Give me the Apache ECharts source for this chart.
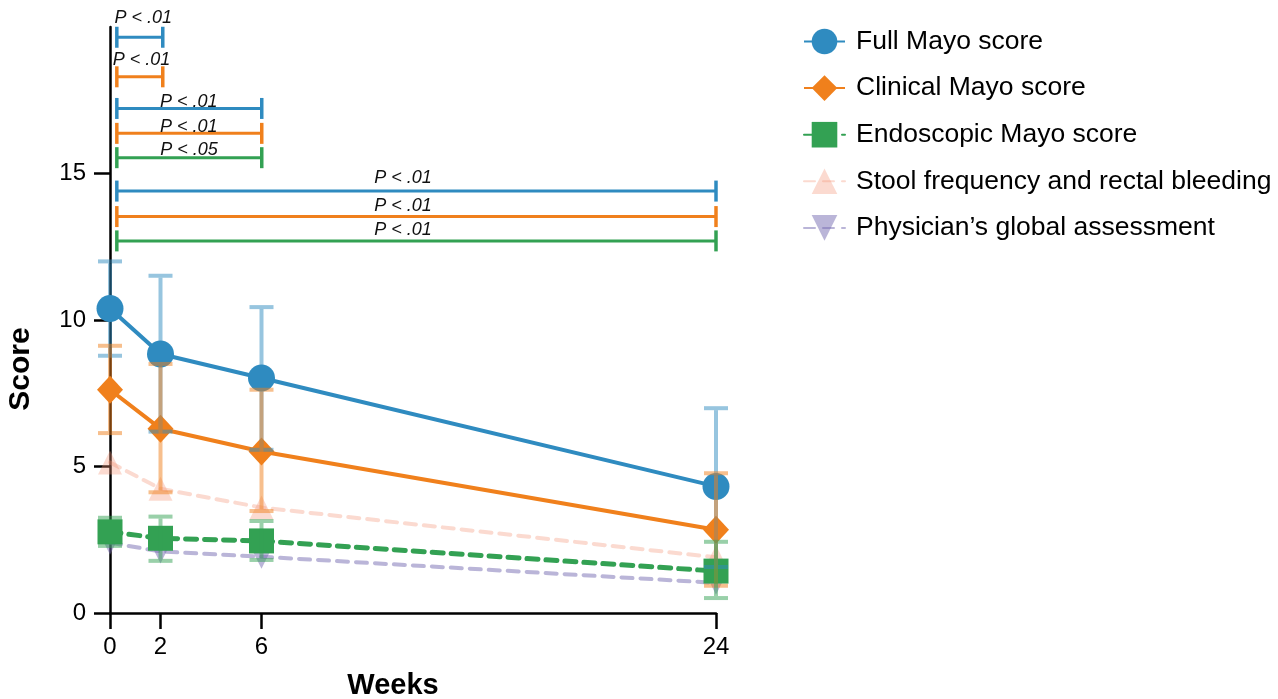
<!DOCTYPE html>
<html><head><meta charset="utf-8">
<script src="https://cdn.jsdelivr.net/npm/echarts@6/dist/echarts.min.js"></script>
<style>html,body{margin:0;padding:0;background:#fff}#c{width:1278px;height:699px}</style>
</head><body><div id="c"></div>
<script>
// ---------------- data ----------------
const weeks = [0, 2, 6, 24];
const xTicks = [0, 2, 6, 24];
const yTicks = [0, 5, 10, 15];

const fullMayo      = [10.39, 8.84, 8.02, 4.32];
const fullMayoLow   = [8.78, 6.19, 5.57, 1.57];
const fullMayoHigh  = [12.00, 11.51, 10.44, 6.99];

const clinicalMayo     = [7.62, 6.29, 5.51, 2.84];
const clinicalMayoLow  = [6.14, 4.12, 3.48, 0.93];
const clinicalMayoHigh = [9.12, 8.50, 7.62, 4.77];

const endoMayo     = [2.77, 2.55, 2.46, 1.43];
const endoMayoLow  = [2.29, 1.78, 1.81, 0.51];
const endoMayoHigh = [3.25, 3.29, 3.14, 2.43];

const stoolRectal     = [5.14, 4.24, 3.60, 1.90];
const physicianGlobal = [2.40, 2.10, 1.92, 1.03];

const seriesNames = ['Full Mayo score', 'Clinical Mayo score', 'Endoscopic Mayo score',
  'Stool frequency and rectal bleeding', 'Physician\u2019s global assessment'];

// significance brackets
const bracketSeries = ['full', 'clinical', 'full', 'clinical', 'endo', 'full', 'clinical', 'endo'];
const bracketFrom   = [0.27, 0.27, 0.27, 0.27, 0.27, 0.27, 0.27, 0.27];
const bracketTo     = [2.09, 2.09, 6.01, 6.01, 6.01, 24, 24, 24];
const bracketY      = [19.65, 18.30, 17.22, 16.37, 15.54, 14.40, 13.53, 12.70];
const bracketLabel  = ['P < .01', 'P < .01', 'P < .01', 'P < .01', 'P < .05', 'P < .01', 'P < .01', 'P < .01'];
const bracketLabelX = [1.32, 1.25, 3.12, 3.12, 3.13, 11.6, 11.6, 11.6];
const bracketLabelY = [20.32, 18.89, 17.44, 16.60, 15.80, 14.86, 13.89, 13.07];

// ---------------- style ----------------
const FONT = '"Liberation Sans", Arial, Helvetica, sans-serif';
const C = {
  full: '#2f8bc0', clinical: '#f0801c', endo: '#33a153',
  stool: 'rgba(243,150,120,0.35)', phys: 'rgba(117,107,177,0.5)'
};
const CE = {
  full: 'rgba(47,139,192,0.5)', clinical: 'rgba(240,128,28,0.5)', endo: 'rgba(51,161,83,0.5)'
};

function pts(vals) { return weeks.map((w, i) => [w, vals[i]]); }

function errSeries(name, low, high, color) {
  return {
    type: 'custom', name: name, z: 5, clip: false, silent: true,
    encode: { x: 0, y: [1, 2] },
    data: weeks.map((w, i) => [w, low[i], high[i]]),
    renderItem: function (params, api) {
      const x = api.value(0);
      const a = api.coord([x, api.value(1)]);
      const b = api.coord([x, api.value(2)]);
      const hw = 12;
      const st = { stroke: color, lineWidth: 4 };
      return {
        type: 'group', children: [
          { type: 'line', shape: { x1: a[0], y1: a[1] - 2, x2: b[0], y2: b[1] + 2 }, style: st },
          { type: 'line', shape: { x1: a[0] - hw, y1: a[1], x2: a[0] + hw, y2: a[1] }, style: st },
          { type: 'line', shape: { x1: b[0] - hw, y1: b[1], x2: b[0] + hw, y2: b[1] }, style: st }
        ]
      };
    }
  };
}

const bracketData = bracketFrom.map((f, i) => [f, bracketTo[i], bracketY[i], bracketLabelX[i], bracketLabelY[i], i]);

const option = {
  backgroundColor: '#fff',
  animation: false,
  grid: { left: 110, right: 562, top: 27, bottom: 86 },
  xAxis: {
    type: 'value', min: 0, max: 24,
    axisLine: { show: true, lineStyle: { color: '#000', width: 2.5 } },
    axisTick: { show: true, length: 16, customValues: xTicks, lineStyle: { color: '#000', width: 2.5 } },
    axisLabel: { customValues: xTicks, color: '#000', fontSize: 24, fontFamily: FONT, margin: 22 },
    splitLine: { show: false }
  },
  yAxis: {
    type: 'value', min: 0, max: 20, interval: 5,
    axisLine: { show: true, lineStyle: { color: '#000', width: 2.5 } },
    axisTick: { show: true, length: 16, customValues: yTicks, lineStyle: { color: '#000', width: 2.5 } },
    axisLabel: { customValues: yTicks, color: '#000', fontSize: 24, fontFamily: FONT, margin: 24 },
    splitLine: { show: false }
  },
  legend: {
    data: seriesNames,
    orient: 'vertical', left: 798, top: 23,
    itemWidth: 41, itemHeight: 32, itemGap: 19.6,
    textStyle: { fontSize: 26.5, color: '#000', fontFamily: FONT, padding: [0, 0, 0, 6] },
    selectedMode: false
  },
  graphic: [
    { type: 'text', x: 393, y: 686, style: { text: 'Weeks', font: 'bold 29px ' + FONT, fill: '#000', align: 'center', verticalAlign: 'middle' } },
    { type: 'text', x: 21, y: 369, rotation: Math.PI / 2, style: { text: 'Score', font: 'bold 30px ' + FONT, fill: '#000', align: 'center', verticalAlign: 'middle' } }
  ],
  series: [
    {
      type: 'custom', name: 'brackets', z: 3, clip: false, silent: true,
      encode: { x: 0, y: 2 },
      data: bracketData,
      renderItem: function (params, api) {
        const i = api.value(5);
        const col = C[bracketSeries[i]];
        const p1 = api.coord([api.value(0), api.value(2)]);
        const p2 = api.coord([api.value(1), api.value(2)]);
        const t = api.coord([api.value(3), api.value(4)]);
        const h = 10.5;
        return {
          type: 'group', children: [
            { type: 'line', shape: { x1: p1[0], y1: p1[1], x2: p2[0], y2: p2[1] }, style: { stroke: col, lineWidth: 3 } },
            { type: 'line', shape: { x1: p1[0], y1: p1[1] - h, x2: p1[0], y2: p1[1] + h }, style: { stroke: col, lineWidth: 3.5 } },
            { type: 'line', shape: { x1: p2[0], y1: p2[1] - h, x2: p2[0], y2: p2[1] + h }, style: { stroke: col, lineWidth: 3.5 } },
            { type: 'text', x: t[0], y: t[1], style: { text: bracketLabel[i], font: 'italic 18px ' + FONT, fill: '#111', align: 'center', verticalAlign: 'middle' } }
          ]
        };
      }
    },
    {
      type: 'line', name: seriesNames[3], data: pts(stoolRectal), z: 2, clip: false,
      symbol: 'triangle', symbolSize: 24,
      lineStyle: { color: C.stool, width: 4, type: [11, 8], cap: 'round' },
      itemStyle: { color: C.stool }
    },
    {
      type: 'line', name: seriesNames[4], data: pts(physicianGlobal), z: 2, clip: false,
      symbol: 'triangle', symbolRotate: 180, symbolSize: 24,
      lineStyle: { color: C.phys, width: 4, type: [11, 8], cap: 'round' },
      itemStyle: { color: C.phys }
    },
    {
      type: 'line', name: seriesNames[2], data: pts(endoMayo), z: 3, clip: false,
      symbol: 'rect', symbolSize: 25,
      lineStyle: { color: C.endo, width: 5, type: [11, 8], cap: 'round' },
      itemStyle: { color: C.endo }
    },
    {
      type: 'line', name: seriesNames[1], data: pts(clinicalMayo), z: 3, clip: false,
      symbol: 'diamond', symbolSize: [26, 28],
      lineStyle: { color: C.clinical, width: 4 },
      itemStyle: { color: C.clinical }
    },
    {
      type: 'line', name: seriesNames[0], data: pts(fullMayo), z: 3, clip: false,
      symbol: 'circle', symbolSize: 27,
      lineStyle: { color: C.full, width: 4 },
      itemStyle: { color: C.full }
    },
    errSeries('errFull', fullMayoLow, fullMayoHigh, CE.full),
    errSeries('errClinical', clinicalMayoLow, clinicalMayoHigh, CE.clinical),
    errSeries('errEndo', endoMayoLow, endoMayoHigh, CE.endo)
  ]
};

const chart = echarts.init(document.getElementById('c'), null, { renderer: 'canvas' });
chart.setOption(option);
</script>
</body></html>
